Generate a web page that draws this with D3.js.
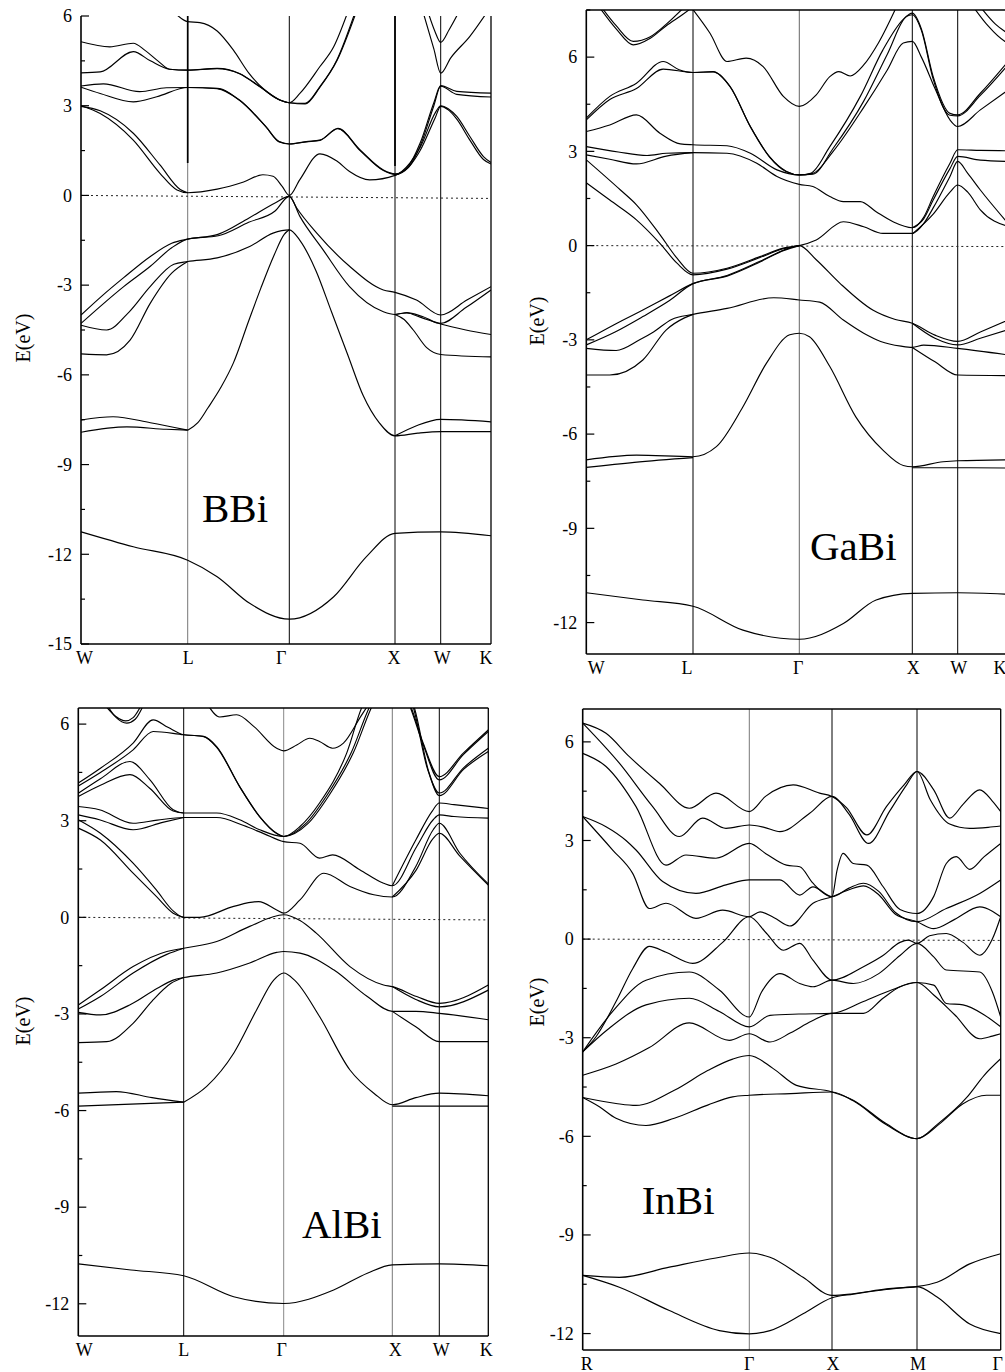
<!DOCTYPE html>
<html>
<head>
<meta charset="utf-8">
<title>Band structures of BBi, GaBi, AlBi, InBi</title>
<script src="https://cdn.jsdelivr.net/npm/d3@7"></script>
<style>
  body { margin: 0; background: #fff; }
  svg text { font-family: "Liberation Serif", "Times New Roman", serif; fill: #000; }
</style>
</head>
<body>
<svg id="chart" width="1005" height="1372"></svg>
<script>
// k is the path coordinate: integer = symmetry point index, fraction = position along segment
const fccPath = ["W", "L", "\u0393", "X", "W", "K"];
const scPath = ["R", "\u0393", "X", "M", "\u0393"];

const bbiBands = [
  [[0.88,6.1],[1.0,5.81],[1.12,5.78],[1.29,5.5],[1.45,4.86],[1.6,4.1],[1.75,3.55],[1.9,3.2],[2.0,3.1],[2.1,3.41],[2.29,4.31],[2.42,4.97],[2.55,6.1]],
  [[0,5.14],[0.27,4.97],[0.49,5.09],[0.6,4.85],[0.72,4.5],[0.83,4.22],[1.0,4.19],[1.29,4.25],[1.51,4.08],[1.71,3.64],[1.91,3.19],[2.0,3.1],[2.15,3.08],[2.29,3.64],[2.45,4.53],[2.62,6.1]],
  [[0,4.1],[0.18,4.13],[0.49,4.81],[0.65,4.5],[0.83,4.22],[1.0,4.19],[1.29,4.24],[1.51,4.07],[1.71,3.63],[1.91,3.18],[2.0,3.1],[2.15,3.06],[2.29,3.62],[2.45,4.5],[2.63,6.1]],
  [[0,3.66],[0.21,3.73],[0.55,3.47],[0.8,3.6],[1.0,3.61],[1.29,3.58],[1.51,3.19],[1.77,2.3],[1.9,1.8],[2.0,1.72],[2.16,1.8],[2.29,1.85],[2.46,2.24],[2.67,1.52],[2.89,0.85],[3.0,0.72],[3.3,1.0],[3.55,1.75],[3.85,3.1],[4.0,3.67],[4.32,3.48],[5.0,3.42]],
  [[0,3.62],[0.18,3.41],[0.49,3.13],[0.71,3.3],[1.0,3.61],[1.29,3.57],[1.51,3.18],[1.77,2.29],[1.9,1.79],[2.0,1.72],[2.16,1.79],[2.29,1.84],[2.46,2.23],[2.67,1.5],[2.89,0.83],[3.0,0.7],[3.3,0.95],[3.55,1.65],[3.85,3.0],[4.0,3.65],[4.32,3.38],[5.0,3.29]],
  [[0,3.0],[0.18,2.74],[0.49,1.85],[0.74,0.74],[0.9,0.18],[1.0,0.09],[1.29,0.21],[1.55,0.45],[1.74,0.69],[1.84,0.64],[1.93,0.3],[2.0,0.0],[2.1,0.53],[2.29,1.39],[2.45,1.15],[2.57,0.8],[2.76,0.52],[3.0,0.67],[3.33,1.09],[3.55,1.6],[3.88,2.76],[4.0,3.0],[4.15,2.9],[4.32,2.64],[4.58,1.97],[4.85,1.3],[5,1.1]],
  [[0,2.98],[0.18,2.83],[0.49,2.08],[0.74,1.02],[0.93,0.2],[1.0,0.09]],
  [[3.0,0.67],[3.33,1.0],[3.55,1.5],[3.88,2.6],[4.0,2.98],[4.15,2.86],[4.32,2.55],[4.58,1.85],[4.85,1.2],[5,1.05]],
  [[3.62,6.1],[3.85,4.9],[4.0,4.09],[4.2,4.6],[4.58,5.32],[4.91,6.1]],
  [[3.73,6.1],[3.87,5.5],[4.0,5.12],[4.17,5.55],[4.35,6.1]],
  [[0,-4.0],[0.2,-3.35],[0.4,-2.75],[0.65,-2.04],[0.85,-1.6],[1.0,-1.46],[1.29,-1.31],[1.6,-0.76],[1.86,-0.25],[2.0,-0.03],[2.07,-0.42],[2.26,-1.26],[2.57,-2.37],[2.89,-3.16],[3.0,-3.24],[3.47,-3.5],[4.0,-4.0],[4.52,-3.5],[5,-3.05]],
  [[0,-4.28],[0.2,-3.65],[0.4,-3.05],[0.65,-2.37],[0.85,-1.75],[1.0,-1.46],[1.3,-1.35],[1.6,-0.9],[1.86,-0.52],[2.0,-0.03],[2.1,-0.7],[2.32,-1.82],[2.57,-3.05],[2.89,-3.89],[3.0,-3.98],[3.26,-3.92],[3.6,-4.05],[4.0,-4.28],[4.5,-3.75],[5,-3.16]],
  [[0,-4.34],[0.24,-4.5],[0.45,-3.9],[0.65,-3.04],[0.87,-2.3],[1.0,-2.21],[1.29,-2.09],[1.61,-1.71],[1.84,-1.26],[2.0,-1.15],[2.1,-1.5],[2.25,-2.5],[2.4,-3.9],[2.55,-5.3],[2.7,-6.7],[2.85,-7.6],[3.0,-8.04],[3.5,-7.95],[4.0,-7.9],[5,-7.9]],
  [[0,-5.3],[0.24,-5.33],[0.46,-4.84],[0.65,-3.6],[0.85,-2.6],[1.0,-2.21]],
  [[1.0,-7.85],[1.1,-7.6],[1.2,-7.1],[1.33,-6.4],[1.45,-5.6],[1.6,-4.2],[1.72,-3.1],[1.85,-2.0],[1.95,-1.3],[2.0,-1.15]],
  [[3.0,-3.98],[3.2,-4.15],[3.4,-4.5],[3.7,-5.1],[4.0,-5.32],[5,-5.4]],
  [[3.0,-3.98],[3.26,-3.93],[3.55,-4.07],[4.0,-4.3],[4.5,-4.5],[5,-4.65]],
  [[0,-7.51],[0.3,-7.4],[0.65,-7.6],[1.0,-7.85]],
  [[0,-7.92],[0.43,-7.74],[0.8,-7.82],[1.0,-7.85]],
  [[3.0,-8.04],[3.47,-7.7],[4.0,-7.49],[5,-7.57]],
  [[0,-11.25],[0.49,-11.75],[1.0,-12.2],[1.29,-12.75],[1.61,-13.64],[2.0,-14.17],[2.42,-13.42],[2.73,-12.08],[3.0,-11.3],[4.0,-11.25],[5,-11.38]]
];

const gabiBands = [
  [[0.12,7.6],[0.28,6.9],[0.44,6.39],[0.6,6.6],[0.75,7.0],[0.9,7.35],[1.0,7.6]],
  [[0.14,7.6],[0.28,7.0],[0.44,6.5],[0.6,6.65],[0.75,7.05],[0.92,7.6]],
  [[0.98,7.6],[1.16,6.76],[1.32,5.86],[1.5,5.97],[1.66,5.7],[1.85,4.75],[2.0,4.43],[2.15,4.8],[2.27,5.38],[2.35,5.54],[2.45,5.4],[2.57,5.75],[2.7,6.45],[2.86,7.6]],
  [[0,4.06],[0.22,4.75],[0.47,5.17],[0.72,5.86],[0.87,5.6],[1.0,5.51],[1.19,5.54],[1.35,5.06],[1.54,3.79],[1.72,2.83],[1.88,2.36],[2.0,2.25],[2.1,2.3],[2.27,3.15],[2.54,4.75],[2.74,6.23],[2.92,7.2],[3.0,7.4],[3.2,6.9],[3.46,5.38],[3.83,4.21],[4.0,4.16],[4.45,4.85],[5.0,5.86]],
  [[0,4.0],[0.22,4.65],[0.47,5.0],[0.72,5.62],[1.0,5.51],[1.19,5.53],[1.35,5.05],[1.54,3.78],[1.72,2.82],[1.88,2.35],[2.0,2.25],[2.12,2.27],[2.3,3.1],[2.57,4.6],[2.78,6.1],[2.95,7.3],[3.0,7.35],[3.2,6.85],[3.46,5.3],[3.83,4.15],[4.0,4.13],[4.45,4.78],[5.0,5.75]],
  [[0,3.63],[0.22,3.84],[0.47,4.16],[0.69,3.58],[0.88,3.24],[1.0,3.21],[1.32,3.18],[1.54,2.94],[1.79,2.41],[2.0,2.25],[2.12,2.3],[2.3,3.0],[2.57,4.4],[2.78,5.6],[2.92,6.45],[3.0,6.5],[3.2,6.0],[3.5,5.0],[3.83,4.0],[4.0,3.79],[4.45,4.32],[5.0,4.95]],
  [[0,3.15],[0.3,2.98],[0.57,2.87],[0.75,2.94],[1.0,2.96],[1.32,2.94],[1.6,2.62],[1.79,2.2],[2.0,1.95],[2.12,1.88],[2.27,1.56],[2.39,1.4],[2.54,1.4],[2.68,1.08],[2.83,0.76],[3.0,0.57],[3.25,0.9],[3.46,1.56],[3.83,2.62],[4.0,3.05],[4.45,3.03],[5,3.02]],
  [[0,2.89],[0.22,2.75],[0.47,2.6],[0.75,2.85],[1.0,2.96]],
  [[3.0,0.57],[3.25,0.85],[3.46,1.45],[3.83,2.45],[4.0,2.84],[4.45,2.72],[5,2.68]],
  [[0,2.73],[0.32,1.77],[0.47,1.3],[0.69,0.35],[0.85,-0.4],[1.0,-0.88],[1.32,-0.72],[1.63,-0.35],[1.85,-0.08],[2.0,0.0],[2.15,0.18],[2.39,0.76],[2.57,0.6],[2.74,0.39],[3.0,0.39],[3.25,0.7],[3.46,1.2],[3.83,2.2],[4.0,2.68],[4.2,2.3],[4.45,1.77],[5,0.71]],
  [[0,2.0],[0.22,1.45],[0.47,0.82],[0.69,0.07],[0.85,-0.56],[1.0,-0.93],[1.32,-0.75],[1.63,-0.38],[1.85,-0.1],[2.0,0.0]],
  [[3.0,0.37],[3.46,1.0],[3.83,1.7],[4.0,1.93],[4.2,1.7],[4.45,1.14],[5,0.61]],
  [[4.31,7.6],[4.6,7.0],[4.94,6.5],[5,6.45]],
  [[4.45,7.6],[4.75,7.05],[5,6.75]],
  [[0,-3.0],[0.27,-2.5],[0.53,-2.05],[0.78,-1.6],[1.0,-1.21],[1.32,-0.95],[1.63,-0.5],[1.85,-0.15],[2.0,0.0],[2.15,-0.45],[2.36,-1.2],[2.65,-2.05],[2.85,-2.35],[3.0,-2.47],[3.5,-2.85],[4.0,-3.05],[4.45,-2.75],[5,-2.37]],
  [[0,-3.16],[0.27,-2.75],[0.53,-2.26],[0.78,-1.75],[1.0,-1.21],[1.32,-0.97],[1.63,-0.52],[1.85,-0.16],[2.0,0.0]],
  [[3.0,-2.47],[3.5,-2.95],[4.0,-3.16],[4.45,-2.95],[5,-2.68]],
  [[0,-3.27],[0.28,-3.34],[0.5,-3.0],[0.63,-2.75],[0.8,-2.35],[1.0,-2.19],[1.32,-2.0],[1.76,-1.66],[2.0,-1.73],[2.18,-1.8],[2.39,-2.37],[2.57,-2.79],[2.72,-3.05],[2.9,-3.2],[3.0,-3.24],[3.25,-3.17],[4.0,-3.27],[5,-3.48]],
  [[0,-4.12],[0.22,-4.12],[0.53,-3.64],[0.75,-2.68],[0.92,-2.3],[1.0,-2.19]],
  [[3.0,-3.24],[3.5,-3.7],[4.0,-4.12],[5,-4.14]],
  [[0,-6.82],[0.47,-6.67],[1.0,-6.72],[1.22,-6.4],[1.47,-5.13],[1.69,-3.75],[1.91,-2.84],[2.0,-2.79],[2.09,-2.9],[2.27,-3.85],[2.5,-5.45],[2.74,-6.51],[2.92,-7.0],[3.0,-7.04],[3.68,-6.88],[4.0,-6.85],[5,-6.82]],
  [[0,-7.06],[0.45,-6.9],[1.0,-6.75]],
  [[3.0,-7.07],[4.0,-7.07],[5,-7.08]],
  [[0,-11.05],[0.53,-11.28],[1.0,-11.48],[1.47,-12.24],[2.0,-12.53],[2.39,-12.03],[2.68,-11.28],[3.0,-11.07],[4.0,-11.05],[5,-11.1]]
];

const albiBands = [
  [[0.25,6.6],[0.35,6.25],[0.45,6.1],[0.52,6.2],[0.6,6.6]],
  [[0.27,6.6],[0.36,6.2],[0.46,6.03],[0.54,6.15],[0.62,6.6]],
  [[1.24,6.6],[1.36,6.22],[1.53,6.29],[1.7,5.93],[1.93,5.25],[2.0,5.17],[2.12,5.35],[2.24,5.56],[2.33,5.46],[2.45,5.25],[2.55,5.41],[2.71,6.24],[2.78,6.6],[3.0,7.5],[3.36,6.6],[3.66,5.35],[4.0,4.27],[4.49,5.05],[5,5.77]],
  [[0,4.17],[0.21,4.63],[0.52,5.41],[0.71,6.13],[0.85,5.9],[1.0,5.67],[1.2,5.62],[1.33,5.3],[1.56,4.06],[1.76,3.13],[1.93,2.61],[2.0,2.51],[2.15,2.82],[2.33,3.55],[2.58,5.1],[2.73,6.6],[3.0,7.5],[3.38,6.6],[3.66,5.4],[4.0,4.37],[4.49,5.1],[5,5.82]],
  [[0,4.08],[0.21,4.5],[0.52,5.2],[0.71,5.77],[1.0,5.67],[1.2,5.61],[1.33,5.28],[1.56,4.05],[1.76,3.12],[1.93,2.6],[2.0,2.51],[2.2,2.9],[2.4,3.8],[2.62,5.1],[2.8,6.6],[3.0,7.5],[3.43,6.6],[3.75,4.6],[4.0,3.86],[4.5,4.65],[5,5.25]],
  [[0,3.85],[0.21,4.3],[0.49,4.84],[0.68,4.27],[0.9,3.34],[1.0,3.24],[1.33,3.24],[1.56,3.03],[1.76,2.72],[2.0,2.51],[2.22,2.9],[2.42,3.8],[2.64,5.1],[2.82,6.6],[3.0,7.5],[3.45,6.6],[3.77,4.55],[4.0,3.78],[4.5,4.6],[5,5.15]],
  [[0,3.75],[0.21,4.1],[0.49,4.43],[0.68,4.0],[0.9,3.3],[1.0,3.24]],
  [[0,3.44],[0.2,3.34],[0.52,2.92],[0.75,3.02],[1.0,3.1],[1.33,3.1],[1.6,2.85],[1.8,2.6],[2.0,2.35],[2.15,2.3],[2.33,1.84],[2.45,1.94],[2.7,1.48],[2.92,1.06],[3.0,0.98],[3.52,2.2],[3.87,3.03],[4.0,3.18],[4.3,3.13],[5,3.08]],
  [[0,3.18],[0.2,3.03],[0.52,2.72],[0.8,2.95],[1.0,3.1]],
  [[3.0,0.98],[3.5,2.4],[3.85,3.3],[4.0,3.55],[4.3,3.5],[5,3.38]],
  [[0,3.03],[0.21,2.61],[0.52,1.68],[0.74,0.85],[0.9,0.2],[1.0,0.0],[1.16,0.0],[1.5,0.34],[1.75,0.49],[1.93,0.23],[2.0,0.13],[2.15,0.54],[2.37,1.37],[2.61,0.96],[2.83,0.7],[3.0,0.63],[3.5,1.58],[3.87,2.72],[4.0,2.92],[4.42,1.99],[5,1.04]],
  [[0,2.77],[0.21,2.4],[0.52,1.37],[0.74,0.65],[0.9,0.13],[1.0,0.0]],
  [[3.0,0.63],[3.5,1.45],[3.87,2.45],[4.0,2.61],[4.42,1.9],[5,1.0]],
  [[0,-2.72],[0.21,-2.25],[0.52,-1.53],[0.84,-1.06],[1.0,-0.96],[1.33,-0.75],[1.66,-0.28],[2.0,0.08],[2.15,-0.1],[2.3,-0.49],[2.61,-1.53],[2.92,-2.1],[3.0,-2.15],[3.52,-2.46],[4.0,-2.67],[5,-2.1]],
  [[0,-2.85],[0.21,-2.46],[0.52,-1.73],[0.84,-1.15],[1.0,-0.96]],
  [[3.0,-2.15],[3.5,-2.55],[4.0,-2.78],[5,-2.26]],
  [[0,-2.95],[0.21,-3.03],[0.5,-2.7],[0.75,-2.2],[0.9,-1.95],[1.0,-1.87],[1.33,-1.73],[1.66,-1.42],[1.93,-1.09],[2.0,-1.06],[2.15,-1.11],[2.46,-1.63],[2.77,-2.46],[3.0,-2.92],[3.5,-2.92],[4.0,-2.98],[5,-3.18]],
  [[0,-3.89],[0.27,-3.86],[0.52,-3.29],[0.7,-2.6],[0.88,-2.05],[1.0,-1.87]],
  [[3.0,-2.92],[3.5,-3.4],[4.0,-3.86],[5,-3.86]],
  [[1.0,-5.74],[1.23,-5.25],[1.5,-4.22],[1.73,-2.87],[1.9,-1.95],[2.0,-1.73],[2.1,-1.95],[2.33,-3.08],[2.61,-4.74],[2.83,-5.46],[3.0,-5.82],[3.5,-5.6],[4.0,-5.46],[5,-5.54]],
  [[0,-5.46],[0.36,-5.41],[0.7,-5.6],[1.0,-5.74]],
  [[0,-5.86],[0.5,-5.8],[1.0,-5.74]],
  [[3.0,-5.86],[4.0,-5.86],[5,-5.86]],
  [[0,-10.76],[0.5,-10.95],[1.0,-11.13],[1.5,-11.78],[2.0,-11.99],[2.46,-11.57],[2.77,-11.05],[3.0,-10.79],[4.0,-10.76],[5,-10.82]]
];

const inbiBands = [
  [[0,6.57],[0.14,6.26],[0.28,5.55],[0.46,4.74],[0.64,3.98],[0.8,4.44],[1,3.88],[1.2,4.35],[1.53,4.69],[1.85,4.44],[2,4.34],[2.17,4.0],[2.41,3.17],[2.64,4.03],[2.85,4.7],[3,5.1],[3.2,4.54],[3.39,3.68],[3.55,4.1],[3.75,4.54],[3.9,4.2],[4,3.88]],
  [[0,6.57],[0.22,5.35],[0.42,4.03],[0.58,3.12],[0.72,3.68],[0.86,3.37],[1,3.47],[1.18,3.4],[1.37,3.27],[1.73,3.83],[2,4.34],[2.2,3.8],[2.43,2.91],[2.68,3.9],[2.88,4.7],[3,5.1],[3.16,4.23],[3.39,3.5],[3.63,3.37],[3.85,3.4],[4,3.44]],
  [[0,5.65],[0.14,5.25],[0.32,4.03],[0.5,2.25],[0.62,2.56],[0.8,2.46],[1,2.91],[1.2,2.6],[1.45,2.25],[1.61,2.2],[1.77,1.7],[2,1.29],[2.06,2.1],[2.13,2.61],[2.25,2.3],[2.41,2.25],[2.6,1.6],[2.8,0.9],[3,0.78],[3.2,1.3],[3.35,2.3],[3.47,2.51],[3.63,2.12],[3.8,2.5],[4,2.91]],
  [[0,3.73],[0.14,3.42],[0.26,3.0],[0.32,2.71],[0.48,1.75],[0.68,1.39],[0.86,1.65],[1,1.8],[1.37,1.8],[1.61,1.34],[1.77,1.59],[2,1.29],[2.2,1.55],[2.37,1.7],[2.55,1.45],[2.75,0.8],[3,0.53],[3.35,0.93],[3.75,1.39],[4,1.8]],
  [[0,3.73],[0.18,2.71],[0.3,2.0],[0.4,0.93],[0.5,1.09],[0.68,0.63],[0.84,0.88],[1,0.68],[1.13,0.83],[1.3,0.65],[1.49,0.4],[1.77,1.09],[2,1.29],[2.2,1.5],[2.37,1.62],[2.55,1.35],[2.75,0.75],[3,0.53],[3.2,0.32],[3.45,0.6],[3.75,0.98],[3.9,0.85],[4,0.68]],
  [[0,-3.43],[0.08,-2.97],[0.2,-1.9],[0.3,-0.9],[0.4,-0.22],[0.5,-0.4],[0.66,-0.74],[0.84,-0.1],[1,0.68],[1.21,0.17],[1.41,-0.34],[1.61,-0.13],[1.77,-0.64],[2,-1.25],[2.37,-0.84],[2.6,-0.5],[2.8,-0.1],[2.9,-0.03],[3,-0.13],[3.15,0.1],[3.35,0.17],[3.55,-0.1],[3.75,-0.49],[3.9,0.0],[4,0.68]],
  [[0,-3.43],[0.18,-2.2],[0.38,-1.25],[0.64,-1.0],[0.82,-1.55],[1,-2.37],[1.15,-1.6],[1.37,-1.05],[1.61,-1.35],[1.77,-1.45],[2,-1.25],[2.25,-1.35],[2.55,-1.05],[2.8,-0.5],[3,-0.13],[3.2,-0.54],[3.35,-0.94],[3.75,-1.0],[3.9,-1.6],[4,-2.37]],
  [[0,-3.43],[0.15,-2.75],[0.38,-2.0],[0.64,-1.8],[0.82,-2.2],[1,-2.67],[1.25,-2.32],[1.6,-2.28],[2,-2.26],[2.37,-1.9],[2.7,-1.55],[3,-1.32],[3.2,-1.4],[3.35,-1.96],[3.55,-2.0],[3.8,-2.3],[4,-2.67]],
  [[0,-4.14],[0.2,-3.8],[0.4,-3.3],[0.64,-2.55],[0.88,-3.08],[1,-2.88],[1.25,-3.13],[1.5,-2.85],[1.75,-2.5],[2,-2.26],[2.37,-2.26],[2.6,-1.8],[2.8,-1.45],[3,-1.32],[3.2,-1.7],[3.45,-2.3],[3.75,-3.03],[3.9,-2.95],[4,-2.88]],
  [[0,-4.82],[0.2,-5.0],[0.32,-5.06],[0.55,-4.6],[0.75,-4.0],[0.9,-3.65],[1,-3.54],[1.29,-3.94],[1.57,-4.45],[2,-4.65],[2.25,-4.9],[2.64,-5.62],[3,-6.07],[3.25,-5.62],[3.6,-4.8],[3.8,-4.15],[4,-3.64]],
  [[0,-4.82],[0.1,-5.1],[0.2,-5.45],[0.38,-5.67],[0.55,-5.45],[0.75,-5.05],[0.9,-4.8],[1,-4.75],[1.5,-4.7],[2,-4.65],[2.25,-4.92],[2.64,-5.65],[3,-6.07],[3.27,-5.62],[3.55,-5.01],[3.83,-4.75],[4,-4.75]],
  [[0,-10.23],[0.22,-10.29],[0.52,-9.98],[0.8,-9.7],[1,-9.55],[1.25,-9.68],[1.65,-10.29],[2,-10.84],[2.25,-10.79],[2.64,-10.64],[3,-10.57],[3.24,-10.44],[3.63,-9.88],[4,-9.57]],
  [[0,-10.23],[0.22,-10.59],[0.52,-11.3],[0.82,-11.91],[1,-12.01],[1.25,-11.91],[1.65,-11.4],[2,-10.91],[2.25,-10.8],[2.64,-10.66],[3,-10.57],[3.24,-10.89],[3.63,-11.71],[4,-12.0]]
];

// Fermi level (dotted) energies at left and right edge
const fermiEnds = { BBi: [0, -0.1], GaBi: [0, -0.03], AlBi: [0, -0.08], InBi: [0, -0.04] };

// ---- layout (page pixels) ----
const panels = [
  { name: "BBi", bands: bbiBands, labels: fccPath, yDomain: [-15, 6],
    xs: [81, 187.7, 289.3, 395, 440.7, 491], top: 16, bottom: 644, topLine: false,
    vcol: ["#777", "#000", "#000", "#000"], labDx: [3.5, 0.5, -8, -1, 1.5, -5],
    boldTop: [[187.7, 163], [395, 166]],
    title: [202, 522], ylab: [23, 338] },
  { name: "GaBi", bands: gabiBands, labels: fccPath, yDomain: [-13, 7.5],
    xs: [586.3, 693, 799.3, 912.3, 957.7, 1008], top: 10, bottom: 654, topLine: true,
    vcol: ["#000", "#666", "#000", "#000"], labDx: [10, -6, -1, 1, 1, -8], boldTop: [],
    title: [810, 560], ylab: [537, 321] },
  { name: "AlBi", bands: albiBands, labels: fccPath, yDomain: [-13, 6.5],
    xs: [78.3, 183.7, 283.7, 392.3, 439.3, 488.3], top: 708, bottom: 1336, topLine: true,
    vcol: ["#000", "#888", "#777", "#000"], labDx: [6, 0, -2, 3, 2, -2], boldTop: [],
    title: [302, 1238], ylab: [23, 1021] },
  { name: "InBi", bands: inbiBands, labels: scPath, yDomain: [-12.5, 7],
    xs: [582.7, 749.3, 832, 917, 1000.7], top: 709, bottom: 1350, topLine: true,
    vcol: ["#777", "#000", "#000"], labDx: [4, 0, 1, 1, -3], boldTop: [],
    title: [641.7, 1214], ylab: [537, 1002] }
];

const svg = d3.select("#chart");

panels.forEach((p, pi) => {
  const left = p.xs[0], right = p.xs[p.xs.length - 1];
  const x = d3.scaleLinear().domain(d3.range(p.xs.length)).range(p.xs);
  const y = d3.scaleLinear().domain(p.yDomain).range([p.bottom, p.top]);
  const g = svg.append("g");

  const clipId = "clip" + pi;
  svg.append("clipPath").attr("id", clipId)
    .append("rect").attr("x", left).attr("y", p.top)
    .attr("width", right - left).attr("height", p.bottom - p.top);

  // symmetry-point vertical lines
  g.selectAll("line.sym").data(p.xs.slice(1, -1)).enter().append("line")
    .attr("x1", d => d).attr("x2", d => d)
    .attr("y1", p.top).attr("y2", p.bottom)
    .attr("stroke", (d, i) => p.vcol[i]).attr("stroke-width", 1);
  // heavier upper parts of some lines (as in the original scan)
  p.boldTop.forEach(b => {
    g.append("line").attr("x1", b[0]).attr("x2", b[0]).attr("y1", p.top).attr("y2", b[1])
      .attr("stroke", "#000").attr("stroke-width", 1.7);
  });

  // Fermi level
  const fe = fermiEnds[p.name];
  g.append("line")
    .attr("x1", left).attr("x2", right)
    .attr("y1", y(fe[0])).attr("y2", y(fe[1]))
    .attr("stroke", "#222").attr("stroke-width", 1)
    .attr("stroke-dasharray", "2,3");

  // bands
  const line = d3.line().x(d => x(d[0])).y(d => y(d[1])).curve(d3.curveMonotoneX);
  g.append("g").attr("clip-path", "url(#" + clipId + ")")
    .selectAll("path").data(p.bands).enter().append("path")
    .attr("d", line).attr("fill", "none")
    .attr("stroke", "#000").attr("stroke-width", 1.15);

  // frame
  g.append("line").attr("x1", left).attr("x2", left).attr("y1", p.top).attr("y2", p.bottom)
    .attr("stroke", "#000").attr("stroke-width", 1.6);
  g.append("line").attr("x1", right).attr("x2", right).attr("y1", p.top).attr("y2", p.bottom)
    .attr("stroke", "#000").attr("stroke-width", 1.3);
  g.append("line").attr("x1", left).attr("x2", right).attr("y1", p.bottom).attr("y2", p.bottom)
    .attr("stroke", "#000").attr("stroke-width", 1.6);
  if (p.topLine) {
    g.append("line").attr("x1", left).attr("x2", right).attr("y1", p.top).attr("y2", p.top)
      .attr("stroke", "#000").attr("stroke-width", 1.6);
  }

  // y ticks
  const lo = Math.ceil(p.yDomain[0] / 1.5) * 1.5, hi = Math.floor(p.yDomain[1] / 1.5) * 1.5;
  const ticks = d3.range(lo, hi + 0.01, 1.5);
  ticks.forEach(t => {
    const major = Math.abs(t % 3) < 1e-6;
    g.append("line").attr("x1", left).attr("x2", left + (major ? 8 : 4))
      .attr("y1", y(t)).attr("y2", y(t)).attr("stroke", "#000").attr("stroke-width", 1.2);
    if (major) {
      g.append("text").attr("x", left - 9).attr("y", y(t)).attr("dy", "0.35em")
        .attr("text-anchor", "end").attr("font-size", 18).text(String(t));
    }
  });

  // k-point labels
  g.selectAll("text.k").data(p.labels).enter().append("text")
    .attr("x", (d, i) => p.xs[i] + p.labDx[i]).attr("y", p.bottom + 19.5)
    .attr("text-anchor", "middle").attr("font-size", 18).text(d => d);

  // axis title
  g.append("text").attr("transform", "translate(" + p.ylab[0] + "," + p.ylab[1] + ") rotate(-90)")
    .attr("dy", "0.35em").attr("text-anchor", "middle").attr("font-size", 20).text("E(eV)");

  // compound name
  g.append("text").attr("x", p.title[0]).attr("y", p.title[1])
    .attr("font-size", 41).text(p.name);
});
</script>
</body>
</html>
